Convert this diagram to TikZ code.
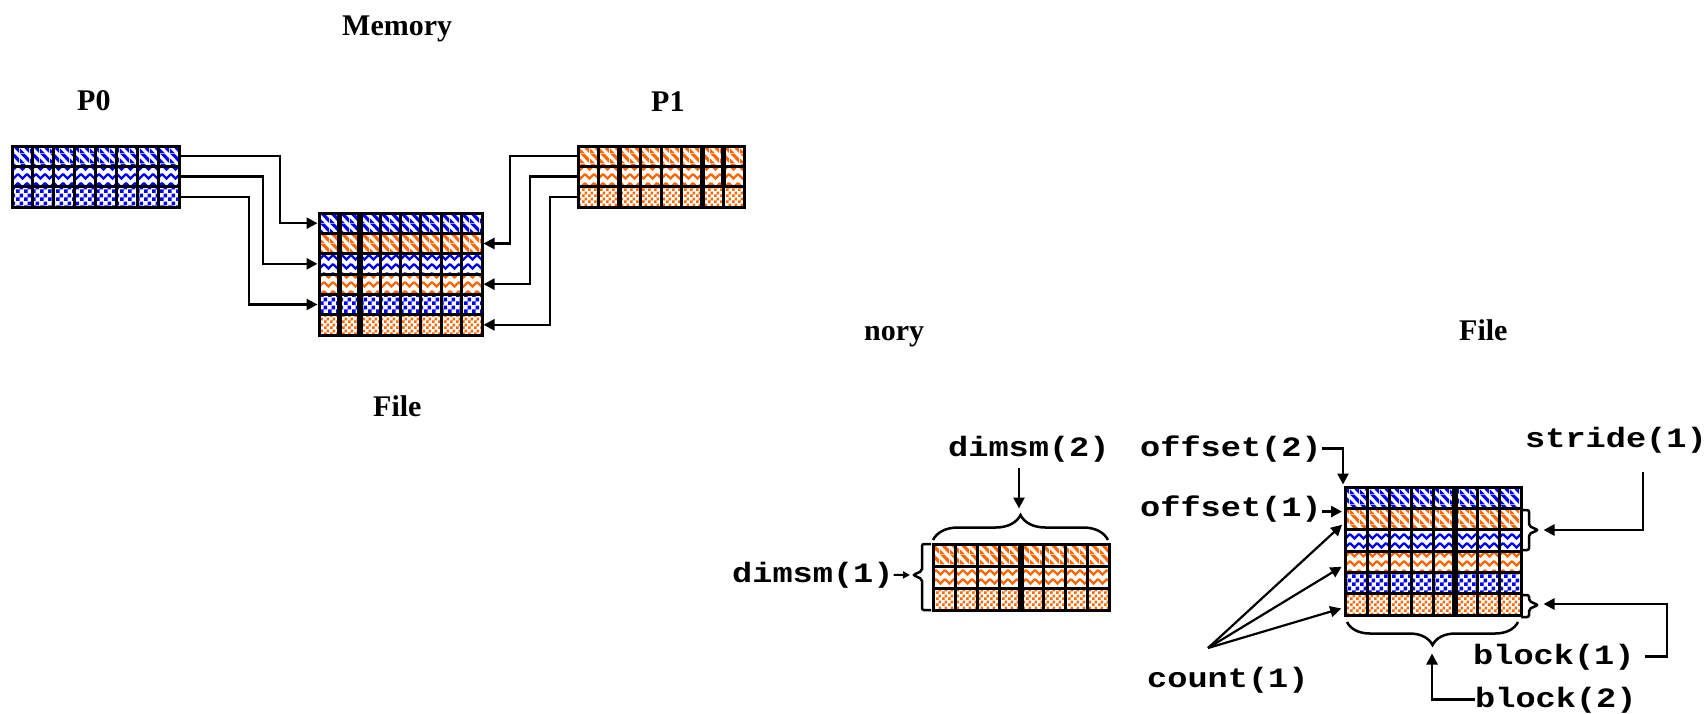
\documentclass[tikz,border=0pt]{standalone}
\usepackage{fontspec}
\setmainfont{Liberation Serif}
\newfontfamily\lblfont[FakeStretch=1.2]{Liberation Mono}
\usetikzlibrary{arrows.meta,patterns,decorations.pathreplacing}

\definecolor{pblue}{RGB}{0,0,255}
\definecolor{porange}{RGB}{255,102,0}

% diagonal stripes
\pgfdeclarepatternformonly{diagA}{\pgfqpoint{0pt}{0pt}}{\pgfqpoint{10pt}{10pt}}{\pgfqpoint{10pt}{10pt}}{%
  \pgfpathmoveto{\pgfqpoint{0pt}{0pt}}%
  \pgfpathlineto{\pgfqpoint{5pt}{0pt}}%
  \pgfpathlineto{\pgfqpoint{0pt}{5pt}}%
  \pgfpathclose
  \pgfpathmoveto{\pgfqpoint{10pt}{0pt}}%
  \pgfpathlineto{\pgfqpoint{10pt}{5pt}}%
  \pgfpathlineto{\pgfqpoint{5pt}{10pt}}%
  \pgfpathlineto{\pgfqpoint{0pt}{10pt}}%
  \pgfpathclose
  \pgfusepath{fill}}
% chevrons
\pgfdeclarepatternformonly{chevB}{\pgfqpoint{-1pt}{-1pt}}{\pgfqpoint{10pt}{10pt}}{\pgfqpoint{9pt}{9pt}}{%
  \pgfsetlinewidth{2.2pt}%
  \pgfpathmoveto{\pgfqpoint{0pt}{8pt}}%
  \pgfpathlineto{\pgfqpoint{4.5pt}{3.5pt}}%
  \pgfpathlineto{\pgfqpoint{9pt}{8pt}}%
  \pgfusepath{stroke}}
% coarse checker
\pgfdeclarepatternformonly{checkC}{\pgfpointorigin}{\pgfqpoint{8pt}{8pt}}{\pgfqpoint{8pt}{8pt}}{%
  \pgfpathrectangle{\pgfpointorigin}{\pgfqpoint{4pt}{4pt}}%
  \pgfpathrectangle{\pgfqpoint{4pt}{4pt}}{\pgfqpoint{4pt}{4pt}}%
  \pgfusepath{fill}}
% finer checker
\pgfdeclarepatternformonly{fineC}{\pgfpointorigin}{\pgfqpoint{6pt}{6pt}}{\pgfqpoint{6pt}{6pt}}{%
  \pgfpathrectangle{\pgfpointorigin}{\pgfqpoint{3pt}{3pt}}%
  \pgfpathrectangle{\pgfqpoint{3pt}{3pt}}{\pgfqpoint{3pt}{3pt}}%
  \pgfusepath{fill}}

% cell lines of a block: x, y, width, height, inner columns, inner rows
\newcommand\cellgrid[6]{%
  \pgfmathsetmacro\cellw{#3/(#5+1)}%
  \pgfmathsetmacro\cellh{#4/(#6+1)}%
  \foreach \k in {1,...,#5} \draw[gridln] ({#1+\k*\cellw},#2) -- ++(0,#4);
  \foreach \k in {1,...,#6} \draw[gridln] (#1,{#2+\k*\cellh}) -- ++(#3,0);
  \draw[gridln] (#1,#2) rectangle ++(#3,#4);}

\begin{document}
\begin{tikzpicture}[x=1pt,y=-1pt,
  band/.style={rectangle,draw=none,inner sep=0pt,outer sep=0pt,anchor=north west},
  bA/.style={pattern=diagA,pattern color=pblue},
  oA/.style={pattern=diagA,pattern color=porange},
  bB/.style={pattern=chevB,pattern color=pblue},
  oB/.style={pattern=chevB,pattern color=porange},
  bC/.style={pattern=checkC,pattern color=pblue},
  oC/.style={pattern=fineC,pattern color=porange},
  pband/.style={band,minimum width=167pt,minimum height=20.33pt},
  mband/.style={band,minimum width=163pt,minimum height=20.33pt},
  dband/.style={band,minimum width=176pt,minimum height=22pt},
  fband/.style={band,minimum width=176pt,minimum height=21.33pt},
  gridln/.style={line width=3pt},
  heavyln/.style={line width=5.5pt},
  conn/.style={line width=2.6pt},
  arr/.style={conn,-{Triangle[length=11pt,width=11pt]},shorten >=1.5pt},
  smallarr/.style={line width=2pt,-{Triangle[length=7pt,width=7pt]}},
  brk/.style={line width=2.5pt,rounded corners=2pt},
  brc/.style={line width=2.5pt,decorate,decoration={brace,amplitude=#1}},
  title/.style={font=\bfseries\fontsize{30}{36}\selectfont,inner sep=0pt,anchor=base west},
  lbl/.style={font=\lblfont\bfseries\fontsize{28}{32}\selectfont,inner sep=0pt,anchor=base west},
]
\useasboundingbox (0,0) rectangle (1704,713);

% ---------- upper diagram: two processes writing into memory ----------
\node[title] (tmem) at (342,35) {Memory};
\node[title] (tp0) at (77,110) {P0};
\node[title] (tp1) at (651,111) {P1};
\node[title] (tfile1) at (373,416) {File};

% process 0
\node[pband,bA] (p0a) at (12,146) {};
\node[pband,bB] (p0b) at (p0a.south west) {};
\node[pband,bC] (p0c) at (p0b.south west) {};
\cellgrid{12}{146}{167}{61}{7}{2}

% process 1
\node[pband,oA] (p1a) at (578,146) {};
\node[pband,oB] (p1b) at (p1a.south west) {};
\node[pband,oC] (p1c) at (p1b.south west) {};
\cellgrid{578}{146}{166}{61}{7}{2}
\draw[heavyln] (619.5,146) -- ++(0,61);
\draw[heavyln] (702.5,146) -- ++(0,61);
\draw[heavyln] (723.3,146) -- ++(0,40);

% interleaved memory
\node[mband,bA] (m1) at (319,213) {};
\node[mband,oA] (m2) at (m1.south west) {};
\node[mband,bB] (m3) at (m2.south west) {};
\node[mband,oB] (m4) at (m3.south west) {};
\node[mband,bC] (m5) at (m4.south west) {};
\node[mband,oC] (m6) at (m5.south west) {};
\cellgrid{319}{213}{163}{122}{7}{5}
\draw[heavyln] (339.4,213) -- ++(0,122);
\draw[heavyln] (359.8,213) -- ++(0,122);

\draw[arr] (p0a.east) -- ++(101,0) |- (m1.west);
\draw[arr] (p0b.east) -- ++(84,0) |- (m3.west);
\draw[arr] (p0c.east) -- ++(70,0) |- (m5.west);
\draw[arr] (p1a.west) -- ++(-68,0) |- (m2.east);
\draw[arr] (p1b.west) -- ++(-48,0) |- (m4.east);
\draw[arr] (p1c.west) -- ++(-28,0) |- (m6.east);

% ---------- lower left: memory layout ----------
\node[title] (tnory) at (864,340) {nory};
\node[dband,oA] (d1) at (933,544) {};
\node[dband,oB] (d2) at (d1.south west) {};
\node[dband,oC] (d3) at (d2.south west) {};
\cellgrid{933}{544}{176}{66}{7}{2}
\draw[heavyln] (1021,544) -- ++(0,66);

\node[lbl] (dm2) at (948,456) {dimsm(2)};
\node[lbl] (dm1) at (732,582) {dimsm(1)};
\draw[brc=25pt] (933,540) -- (1108,540);
\coordinate (dm2foot) at (1019,468);
\coordinate (dm2tip) at (1019,510);
\draw[arr] (dm2foot) -- (dm2tip);
\draw[brk] (931,544) -- (922,544) -- (922,571) -- (913,575) -- (922,579) -- (922,610) -- (931,610);
\coordinate (dm1tip) at (910,575);
\draw[smallarr] (dm1.east) -- (dm1tip);

% ---------- lower right: file layout ----------
\node[title] (tfile2) at (1459,340) {File};
\node[fband,bA] (f1) at (1345,487) {};
\node[fband,oA] (f2) at (f1.south west) {};
\node[fband,bB] (f3) at (f2.south west) {};
\node[fband,oB] (f4) at (f3.south west) {};
\node[fband,bC] (f5) at (f4.south west) {};
\node[fband,oC] (f6) at (f5.south west) {};
\cellgrid{1345}{487}{176}{128}{7}{5}
\draw[heavyln] (1455,487) -- ++(0,128);

\node[lbl] (off2) at (1140,456) {offset(2)};
\node[lbl] (off1) at (1140,516) {offset(1)};
\node[lbl] (cnt) at (1147,687) {count(1)};
\node[lbl] (str) at (1525,447) {stride(1)};
\node[lbl] (blk1) at (1473,664) {block(1)};
\node[lbl] (blk2) at (1475,707) {block(2)};

\coordinate (off2tip) at (1343,486);
\draw[arr] (off2.east) -| (off2tip);
\draw[arr,shorten >=3pt] ([yshift=-3pt]off1.east) -- ([yshift=-3pt]off1.east -| f1.west);

\coordinate (fan) at (1208,648);
\foreach \r in {f2,f4,f6}
  \draw[arr,line width=2.2pt,shorten >=4pt] (fan) -- ([yshift=-3pt]\r.west);

% stride bracket
\draw[brk] (1521,510) -- (1529,510) -- (1529,526) -- (1538,530) -- (1529,534) -- (1529,550) -- (1521,550);
\coordinate (strfoot) at (1643,472);
\coordinate (strtip) at (1542,530);
\draw[arr] (strfoot) |- (strtip);

% block(1) bracket
\draw[brk] (1521,595) -- (1529,595) -- (1529,601) -- (1538,605) -- (1529,609) -- (1529,617) -- (1521,617);
\coordinate (blk1turn) at (1667,604);
\coordinate (blk1tip) at (1542,604);
\draw[arr,shorten <=10pt] (blk1.east) -| (blk1turn) -- (blk1tip);

% block(2) brace
\draw[brc=23pt] (1518,622) -- (1347,622);
\coordinate (blk2tip) at (1432,652);
\draw[arr] (blk2.west) -| (blk2tip);

\end{tikzpicture}
\end{document}
